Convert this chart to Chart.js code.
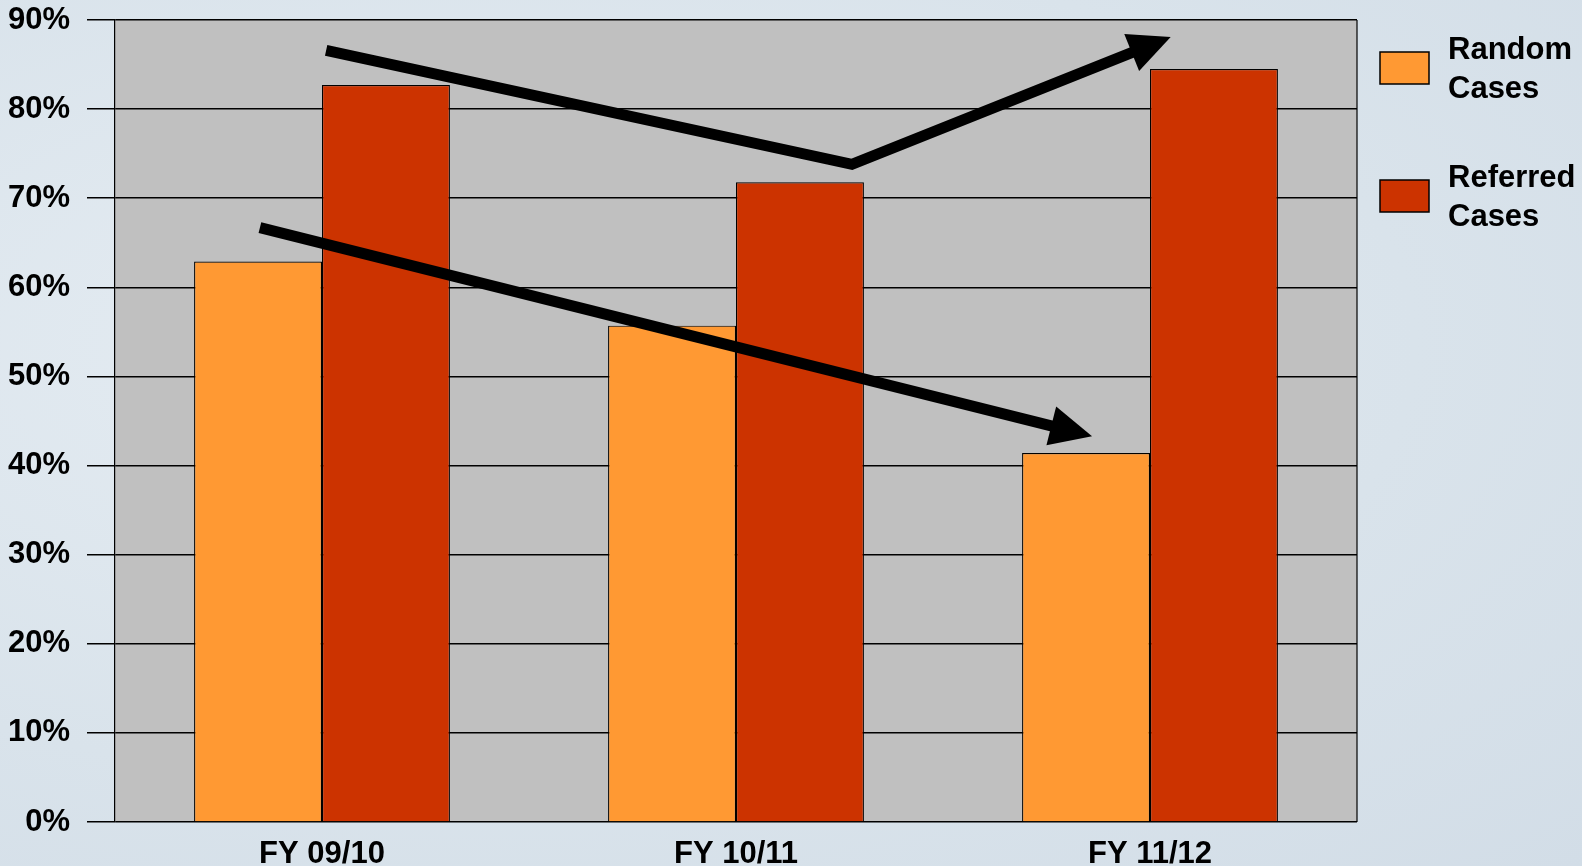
<!DOCTYPE html>
<html>
<head>
<meta charset="utf-8">
<script src="https://cdn.jsdelivr.net/npm/chart.js@4/dist/chart.umd.min.js"></script>
<style>
  html, body { margin: 0; padding: 0; }
  body {
    width: 1582px;
    height: 866px;
    overflow: hidden;
    background: radial-gradient(ellipse at 30% 40%, #e6edf3 0%, #d9e3eb 60%, #d2dde7 100%);
  }
  #wrap { position: relative; width: 1582px; height: 866px; }
</style>
</head>
<body>
<div id="wrap"><canvas id="chart"></canvas></div>
<script>
// Dados do gráfico
const categories = ["FY 09/10", "FY 10/11", "FY 11/12"];
const randomCases = [62.9, 55.7, 41.4];
const referredCases = [82.7, 71.8, 84.5];
const seriesNames = ["Random Cases", "Referred Cases"];
const yTicks = [0, 10, 20, 30, 40, 50, 60, 70, 80, 90];

// Setas de tendência (índice da categoria, valor em %)
const trendArrows = [
  [[0.01, 86.6], [1.28, 73.8], [2.05, 88.1]],
  [[-0.15, 66.7], [1.86, 43.3]],
];

const font = "'Liberation Sans', Arial, sans-serif";

// Fundo cinza da área do gráfico e bordas
const plotBackground = {
  id: "plotBackground",
  beforeDraw(chart) {
    const { ctx, chartArea: a } = chart;
    ctx.save();
    ctx.fillStyle = "#c0c0c0";
    ctx.fillRect(a.left, a.top, a.right - a.left, a.bottom - a.top);
    ctx.strokeStyle = "#000";
    ctx.lineWidth = 1.2;
    ctx.beginPath();
    ctx.moveTo(a.right, a.top);
    ctx.lineTo(a.right, a.bottom);
    ctx.stroke();
    ctx.restore();
  },
};

// Desenha as setas pretas
const arrowsPlugin = {
  id: "arrows",
  afterDatasetsDraw(chart) {
    const { ctx } = chart;
    const x = chart.scales.x;
    const y = chart.scales.y;
    const step = x.getPixelForValue(1) - x.getPixelForValue(0);
    ctx.save();
    ctx.strokeStyle = "#000";
    ctx.fillStyle = "#000";
    ctx.lineWidth = 11;
    ctx.lineJoin = "miter";
    trendArrows.forEach((pts) => {
      const p = pts.map(([i, v]) => [x.getPixelForValue(0) + i * step, y.getPixelForValue(v)]);
      const [tx, ty] = p[p.length - 1];
      const [px, py] = p[p.length - 2];
      const ang = Math.atan2(ty - py, tx - px);
      const headLen = 42;
      const headW = 20;
      const bx = tx - headLen * Math.cos(ang);
      const by = ty - headLen * Math.sin(ang);
      ctx.beginPath();
      ctx.moveTo(p[0][0], p[0][1]);
      for (let k = 1; k < p.length - 1; k++) ctx.lineTo(p[k][0], p[k][1]);
      ctx.lineTo(bx + 2 * Math.cos(ang), by + 2 * Math.sin(ang));
      ctx.stroke();
      ctx.beginPath();
      ctx.moveTo(tx, ty);
      ctx.lineTo(bx + headW * Math.sin(ang), by - headW * Math.cos(ang));
      ctx.lineTo(bx - headW * Math.sin(ang), by + headW * Math.cos(ang));
      ctx.closePath();
      ctx.fill();
    });
    ctx.restore();
  },
};

// Legenda à direita com texto em duas linhas
const sideLegend = {
  id: "sideLegend",
  afterDraw(chart) {
    const { ctx, chartArea: a } = chart;
    const centers = [a.top + 48, a.top + 176];
    ctx.save();
    ctx.font = "bold 31px " + font;
    ctx.textBaseline = "middle";
    ctx.textAlign = "left";
    chart.data.datasets.forEach((ds, i) => {
      const cy = centers[i];
      ctx.fillStyle = ds.backgroundColor;
      ctx.fillRect(a.right + 23, cy - 16, 49, 32);
      ctx.strokeStyle = "#000";
      ctx.lineWidth = 1.5;
      ctx.strokeRect(a.right + 23, cy - 16, 49, 32);
      ctx.fillStyle = "#000";
      const words = ds.label.split(" ");
      words.forEach((w, k) => {
        ctx.fillText(w, a.right + 91, cy - 18 + k * 39);
      });
    });
    ctx.restore();
  },
};

new Chart(document.getElementById("chart"), {
  type: "bar",
  data: {
    labels: categories,
    datasets: [
      {
        label: seriesNames[0],
        data: randomCases,
        backgroundColor: "#ff9933",
        borderColor: "#000",
        borderWidth: 1.2,
      },
      {
        label: seriesNames[1],
        data: referredCases,
        backgroundColor: "#cc3300",
        borderColor: "#000",
        borderWidth: 1.2,
      },
    ],
  },
  options: {
    responsive: true,
    maintainAspectRatio: false,
    animation: false,
    categoryPercentage: 0.618,
    barPercentage: 1.0,
    layout: { padding: { top: 20, right: 225, left: 0, bottom: 0 } },
    plugins: {
      legend: { display: false },
      tooltip: { enabled: false },
    },
    scales: {
      x: {
        grid: { display: false },
        border: { display: false },
        ticks: {
          color: "#000",
          padding: 6,
          font: { family: font, size: 31, weight: "bold" },
        },
        afterFit(s) {
          s.height = 44;
          s.paddingLeft = 0;
          s.paddingRight = 0;
        },
      },
      y: {
        min: 0,
        max: 90,
        afterBuildTicks(s) { s.ticks = yTicks.map((v) => ({ value: v })); },
        grid: {
          color: "#000",
          lineWidth: 1.5,
          tickLength: 28,
          drawOnChartArea: true,
        },
        border: { display: true, color: "#000", width: 1.2 },
        ticks: {
          color: "#000",
          padding: 17,
          font: { family: font, size: 31, weight: "bold" },
          callback: (v) => v + "%",
        },
        afterFit(s) {
          s.width = 115;
          s.paddingTop = 0;
          s.paddingBottom = 0;
        },
      },
    },
  },
  plugins: [plotBackground, arrowsPlugin, sideLegend],
});
</script>
</body>
</html>
